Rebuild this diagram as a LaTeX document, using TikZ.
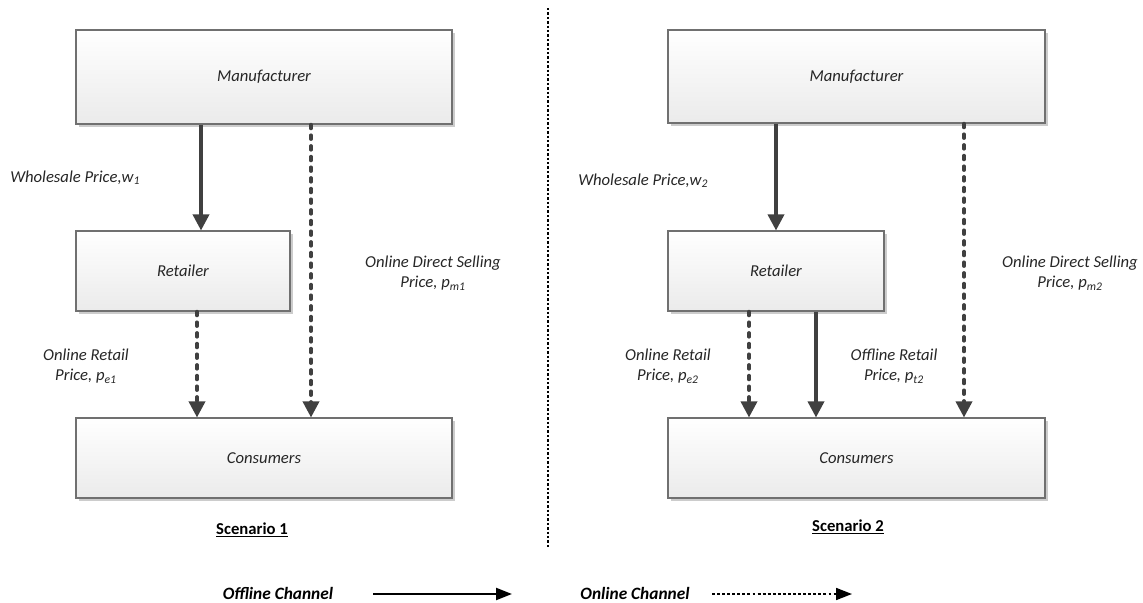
\documentclass[tikz,border=0pt]{standalone}
\usepackage{fontspec}
\setmainfont{Carlito}
\usetikzlibrary{arrows.meta,shadows}
\definecolor{arr}{HTML}{404040}
\definecolor{bord}{HTML}{707070}
\definecolor{txt}{HTML}{262626}
\begin{document}
\begin{tikzpicture}[x=0.75pt,y=-0.75pt,
  box/.style={draw=bord,line width=0.8pt,top color=white,bottom color=black!8,
     inner sep=0pt,font=\fontsize{12.5}{15}\selectfont\itshape,text=txt,
     drop shadow={shadow xshift=2pt,shadow yshift=-2pt,fill=black!40,opacity=0.5}},
  lab/.style={font=\fontsize{12.5}{15.5}\selectfont\itshape,text=txt,align=center,inner sep=0pt},
  offl/.style={draw=arr,line width=2.6pt,-{Triangle[length=12pt,width=12pt]}},
  onl/.style={draw=arr,line width=2.6pt,line cap=round,dash pattern=on 3pt off 5pt,-{Triangle[length=12pt,width=12pt]}},
  leg/.style={font=\fontsize{13}{15}\selectfont\bfseries\itshape,inner sep=0pt},
  scen/.style={font=\fontsize{12.5}{15}\selectfont\bfseries,inner sep=0pt}]
\useasboundingbox (0,0) rectangle (1143,603);
% Scenario 1
\node[box,minimum width=376*0.75pt,minimum height=94*0.75pt] (mf1) at (264,77) {Manufacturer};
\node[box,minimum width=214*0.75pt,minimum height=80*0.75pt] (ret1) at (183,271) {Retailer};
\node[box,minimum width=376*0.75pt,minimum height=80*0.75pt] (con1) at (264,458) {Consumers};
\draw[offl] (mf1.south -| 201,0) -- (ret1.north -| 201,0);
\draw[onl] (mf1.south -| 311,0) -- (con1.north -| 311,0);
\draw[onl] (ret1.south -| 197,0) -- (con1.north -| 197,0);
\node[lab,anchor=west] (w1) at (10,178) {Wholesale Price,w\textsubscript{1}};
\node[lab] (pe1) at (86,366) {Online Retail\\Price, p\textsubscript{e1}};
\node[lab] (pm1) at (433,273) {Online Direct Selling\\Price, p\textsubscript{m1}};
\node[scen] (s1) at (252,530) {\underline{Scenario 1}};
% divider
\coordinate (d1) at (548,8);
\coordinate (d2) at (548,547);
\draw[line width=1.3pt,dash pattern=on 1.8pt off 1.5pt] (d1) -- (d2);
% Scenario 2
\node[box,minimum width=377*0.75pt,minimum height=93*0.75pt] (mf2) at (856.5,76.5) {Manufacturer};
\node[box,minimum width=216*0.75pt,minimum height=80*0.75pt] (ret2) at (776,271) {Retailer};
\node[box,minimum width=377*0.75pt,minimum height=80*0.75pt] (con2) at (856.5,458) {Consumers};
\draw[offl] (mf2.south -| 776,0) -- (ret2.north -| 776,0);
\draw[onl] (mf2.south -| 964,0) -- (con2.north -| 964,0);
\draw[onl] (ret2.south -| 749,0) -- (con2.north -| 749,0);
\draw[offl] (ret2.south -| 816,0) -- (con2.north -| 816,0);
\node[lab,anchor=west] (w2) at (578,181) {Wholesale Price,w\textsubscript{2}};
\node[lab] (pe2) at (668,366) {Online Retail\\Price, p\textsubscript{e2}};
\node[lab] (pt2) at (894,366) {Offline Retail\\Price, p\textsubscript{t2}};
\node[lab] (pm2) at (1070,273) {Online Direct Selling\\Price, p\textsubscript{m2}};
\node[scen] (s2) at (848,527) {\underline{Scenario 2}};
% legend
\node[leg] (lg1) at (278,593) {Offline Channel};
\coordinate (la1) at (373,594);
\coordinate (la2) at (512,594);
\draw[line width=1.6pt,-{Triangle[length=12pt,width=9pt]}] (la1) -- (la2);
\node[leg] (lg2) at (635,593) {Online Channel};
\coordinate (lb1) at (712,594);
\coordinate (lb2) at (852,594);
\draw[line width=1.3pt,dash pattern=on 2.2pt off 1.6pt,-{Triangle[length=12pt,width=9pt]}] (lb1) -- (lb2);
\end{tikzpicture}
\end{document}
